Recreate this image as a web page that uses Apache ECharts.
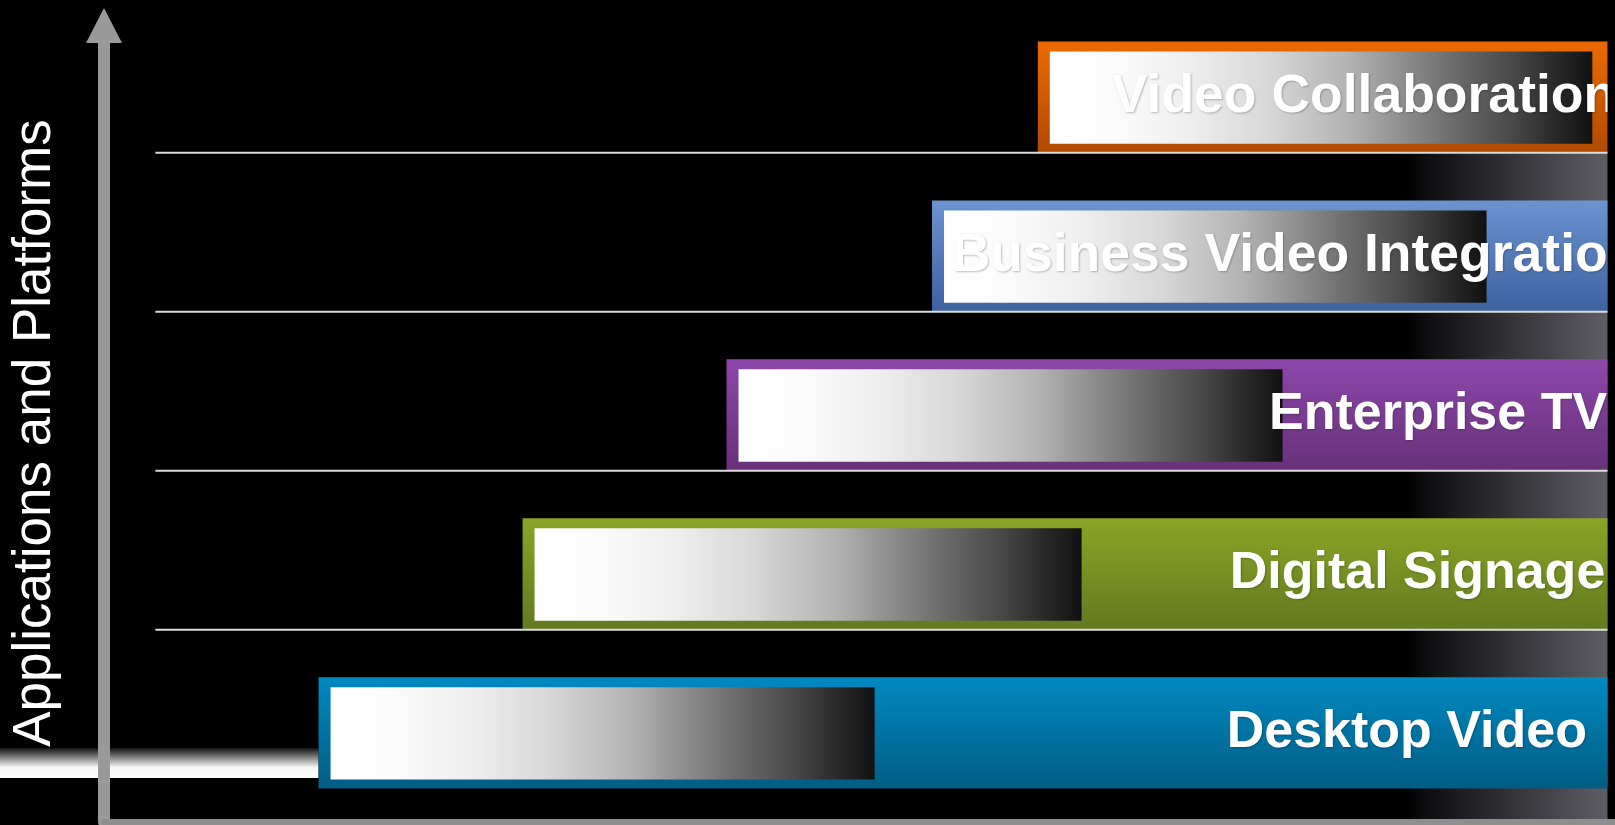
<!DOCTYPE html>
<html lang="en">
  <head>
    <meta charset="UTF-8" />
    <title>Applications and Platforms</title>
    <style type="text/css">
      body {
        margin: 0;
        background: #000;
      }
    </style>
  </head>
  <body>
    <div id="main" style="width:1615px;height:825px"></div>
    <script src="https://cdn.jsdelivr.net/npm/echarts@6/dist/echarts.min.js"></script>
    <script>
      // rows go from bottom (0) to top (4)
      var categories = [
        "Desktop Video",
        "Digital Signage",
        "Enterprise TV",
        "Business Video Integration",
        "Video Collaboration"
      ];
      var startValues = [14.2, 27.7, 41.2, 54.8, 61.8];
      var fadeEndValues = [51.0, 64.7, 78.0, 91.5, 98.5];
      var endValues = [99.5, 99.5, 99.5, 99.5, 99.5];
      var labelValues = [74.3, 74.5, 77.1, 56.1, 66.7];
      var bandRange = [86.1, 99.5];

      // styles per row
      var frameTop = ["#0089c1", "#8aa525", "#8d47ab", "#6c94d0", "#ec6a00"];
      var frameBottom = ["#005d84", "#627920", "#673179", "#3c62a0", "#b04a00"];
      var labelSizes = [52, 52, 52, 53.5, 53.5];

      var yMin = -0.56;
      var yMax = 4.34;
      var halfBar = 0.35;
      var gridFrom = 3.4;
      var glowFrom = -7;

      function vGrad(c1, c2) {
        return {
          type: "linear", x: 0, y: 0, x2: 0, y2: 1,
          colorStops: [{ offset: 0, color: c1 }, { offset: 1, color: c2 }]
        };
      }
      var fadeGrad = {
        type: "linear", x: 0, y: 0, x2: 1, y2: 0,
        colorStops: [
          { offset: 0, color: "#ffffff" },
          { offset: 0.12, color: "#fbfbfb" },
          { offset: 0.25, color: "#efefef" },
          { offset: 0.4, color: "#d8d8d8" },
          { offset: 0.55, color: "#b3b3b3" },
          { offset: 0.65, color: "#8e8e8e" },
          { offset: 0.75, color: "#6a6a6a" },
          { offset: 0.85, color: "#494949" },
          { offset: 0.93, color: "#2a2a2a" },
          { offset: 1, color: "#111111" }
        ]
      };

      function renderBar(params, api) {
        var i = params.dataIndex;
        var row = api.value(0);
        var left = api.coord([api.value(1), row]);
        var fade = api.coord([api.value(2), row]);
        var right = api.coord([api.value(3), row]);
        var label = api.coord([api.value(4), row]);
        var h = api.size([0, halfBar * 2])[1];
        var top = left[1] - h / 2;
        var frame = { x: left[0], y: top, width: right[0] - left[0], height: h };
        var children = [
          { type: "rect", shape: frame, style: { fill: vGrad(frameTop[i], frameBottom[i]) } },
          {
            type: "rect",
            shape: { x: left[0] + 12, y: top + 10, width: fade[0] - left[0] - 12, height: h - 19 },
            style: { fill: fadeGrad }
          },
          {
            // text is cut off at the right edge of its frame
            type: "group",
            clipPath: { type: "rect", shape: frame },
            children: [
              {
                type: "text",
                x: label[0],
                y: left[1],
                style: {
                  text: categories[i],
                  fill: "#ffffff",
                  font: "bold " + labelSizes[i] + "px 'Liberation Sans', Arial, sans-serif",
                  align: "left",
                  verticalAlign: "middle",
                  textShadowColor: "rgba(0,0,0,0.25)",
                  textShadowBlur: 2,
                  textShadowOffsetX: 1,
                  textShadowOffsetY: 1
                }
              }
            ]
          }
        ];
        if (row > 0) {
          var g = api.coord([gridFrom, row]);
          children.push({
            type: "line",
            shape: { x1: g[0], y1: top + h, x2: right[0], y2: top + h },
            style: { stroke: "#dcdcdc", lineWidth: 2 }
          });
        }
        return { type: "group", children: children };
      }

      function renderBackdrop(params, api) {
        var topRow = categories.length - 1;
        var a = api.coord([api.value(0), topRow - halfBar]);
        var b = api.coord([api.value(1), yMin]);
        var s0 = api.coord([glowFrom, -0.094]);
        var s1 = api.coord([startValues[0], -0.283]);
        return {
          type: "group",
          children: [
            {
              type: "rect",
              shape: { x: a[0], y: a[1], width: b[0] - a[0], height: b[1] - a[1] },
              style: {
                fill: {
                  type: "linear", x: 0, y: 0, x2: 1, y2: 0,
                  colorStops: [
                    { offset: 0, color: "#000000" },
                    { offset: 0.1, color: "#0d0d10" },
                    { offset: 1, color: "#5e5d64" }
                  ]
                }
              }
            },
            {
              type: "rect",
              shape: { x: s0[0], y: s0[1], width: s1[0] - s0[0], height: s1[1] - s0[1] },
              style: {
                fill: {
                  type: "linear", x: 0, y: 0, x2: 0, y2: 1,
                  colorStops: [
                    { offset: 0, color: "#111111" },
                    { offset: 0.65, color: "#f8f8f8" },
                    { offset: 1, color: "#ffffff" }
                  ]
                }
              }
            }
          ]
        };
      }

      var barData = categories.map(function (name, i) {
        return [i, startValues[i], fadeEndValues[i], endValues[i], labelValues[i]];
      });

      var myChart = echarts.init(document.getElementById("main"));
      var option = {
        backgroundColor: "#000000",
        animation: false,
        grid: { left: 104, right: 0, top: 43, bottom: 3 },
        xAxis: {
          type: "value",
          min: 0,
          max: 100,
          z: 5,
          axisLine: { show: true, onZero: false, lineStyle: { color: "#8e8e8e", width: 6 } },
          axisTick: { show: false },
          axisLabel: { show: false },
          splitLine: { show: false }
        },
        yAxis: {
          type: "value",
          min: yMin,
          max: yMax,
          z: 5,
          axisLine: {
            show: true,
            onZero: false,
            symbol: ["none", "triangle"],
            symbolSize: [36, 35],
            symbolOffset: [0, 17.5],
            lineStyle: { color: "#999999", width: 12 }
          },
          axisTick: { show: false },
          axisLabel: { show: false },
          splitLine: { show: false }
        },
        graphic: [
          {
            type: "text",
            x: 35,
            y: 433,
            rotation: Math.PI / 2,
            style: {
              text: "Applications and Platforms",
              fill: "#ffffff",
              font: "53px 'Liberation Sans', Arial, sans-serif",
              align: "center",
              verticalAlign: "middle"
            }
          }
        ],
        series: [
          {
            name: "backdrop",
            type: "custom",
            z: 1,
            silent: true,
            renderItem: renderBackdrop,
            data: [bandRange]
          },
          {
            name: "platforms",
            type: "custom",
            z: 2,
            renderItem: renderBar,
            encode: { x: [1, 2, 3, 4], y: 0 },
            data: barData
          }
        ]
      };
      myChart.setOption(option);
    </script>
  </body>
</html>
